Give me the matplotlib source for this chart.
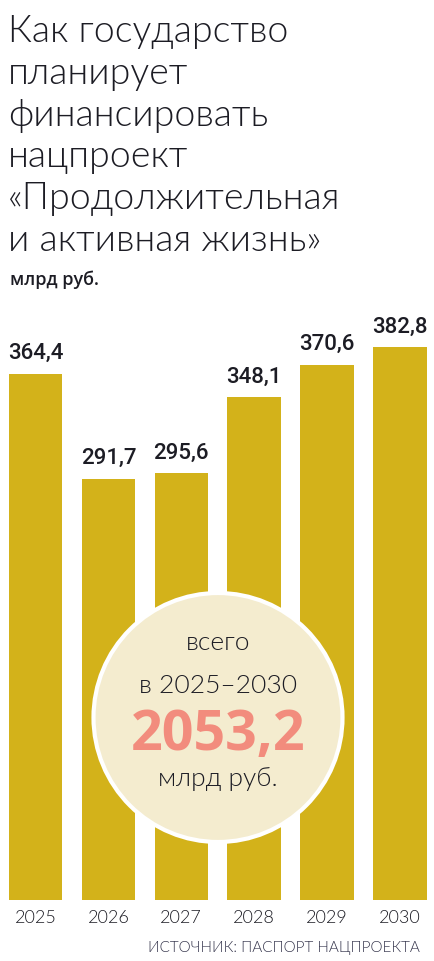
import matplotlib
matplotlib.use("Agg")
import matplotlib.pyplot as plt
from matplotlib.patches import Circle

years = ["2025", "2026", "2027", "2028", "2029", "2030"]
values = [364.4, 291.7, 295.6, 348.1, 370.6, 382.8]
value_labels = ["364,4", "291,7", "295,6", "348,1", "370,6", "382,8"]

title_lines = ["Как государство", "планирует", "финансировать", "нацпроект",
               "«Продолжительная", "и активная жизнь»"]
unit = "млрд руб."
total_lines = ["всего", "в 2025–2030", "2053,2", "млрд руб."]
source = "ИСТОЧНИК: ПАСПОРТ НАЦПРОЕКТА"

W, H = 435, 961
bar_color = "#D3B21A"
text_dark = "#1c1c24"
light_font = "Lato"
light_w = 300

fig = plt.figure(figsize=(W / 100, H / 100), dpi=100)

# bars: zero line at 900 px from top, ~1.444 px per unit
ax = fig.add_axes([0, (H - 900) / H, 1, 600 / H])
ax.bar(range(len(values)), values, width=0.735, color=bar_color)
ax.set_xlim(-0.487, 5.48)
ax.set_ylim(0, 600 / 1.444)
ax.axis("off")
for i, (v, lab) in enumerate(zip(values, value_labels)):
    ax.annotate(lab, (i, v), xytext=(0, 7), textcoords="offset points",
                ha="center", va="bottom", fontsize=16, fontweight="medium",
                family="Roboto", color=text_dark)

# overlay in pixel coordinates
ov = fig.add_axes([0, 0, 1, 1])
ov.set_xlim(0, W)
ov.set_ylim(H, 0)
ov.axis("off")
ov.patch.set_alpha(0)

y = 42
for line in title_lines:
    ov.text(8, y, line, fontsize=27, family=light_font, fontweight=light_w,
            color=text_dark, va="baseline", ha="left")
    y += 41.8
ov.text(10, 285, unit, fontsize=13, family="Open Sans", fontweight="semibold",
        color=text_dark, va="baseline", ha="left")

for i, yr in enumerate(years):
    ax.text(i, -16, yr, transform=ax.transData, fontsize=13, family=light_font,
            fontweight=light_w, color=text_dark, ha="center", va="baseline")

ov.text(420, 952, source, fontsize=11, family=light_font, fontweight=light_w,
        color="#33334a", ha="right", va="baseline")

circ = Circle((218, 717.5), 124.5, facecolor="#F4ECCF", edgecolor="white",
              linewidth=3)
ov.add_patch(circ)
ov.text(218, 650, total_lines[0], fontsize=19, family=light_font,
        fontweight=light_w, color=text_dark, ha="center", va="baseline")
ov.text(218, 693, total_lines[1], fontsize=19, family=light_font,
        fontweight=light_w, color=text_dark, ha="center", va="baseline")
ov.text(218, 750, total_lines[2], fontsize=40, family="Open Sans", fontweight="bold",
        color="#F28C7D", ha="center", va="baseline")
ov.text(218, 786, total_lines[3], fontsize=19, family=light_font,
        fontweight=light_w, color=text_dark, ha="center", va="baseline")

fig.savefig("out.png", dpi=100)
